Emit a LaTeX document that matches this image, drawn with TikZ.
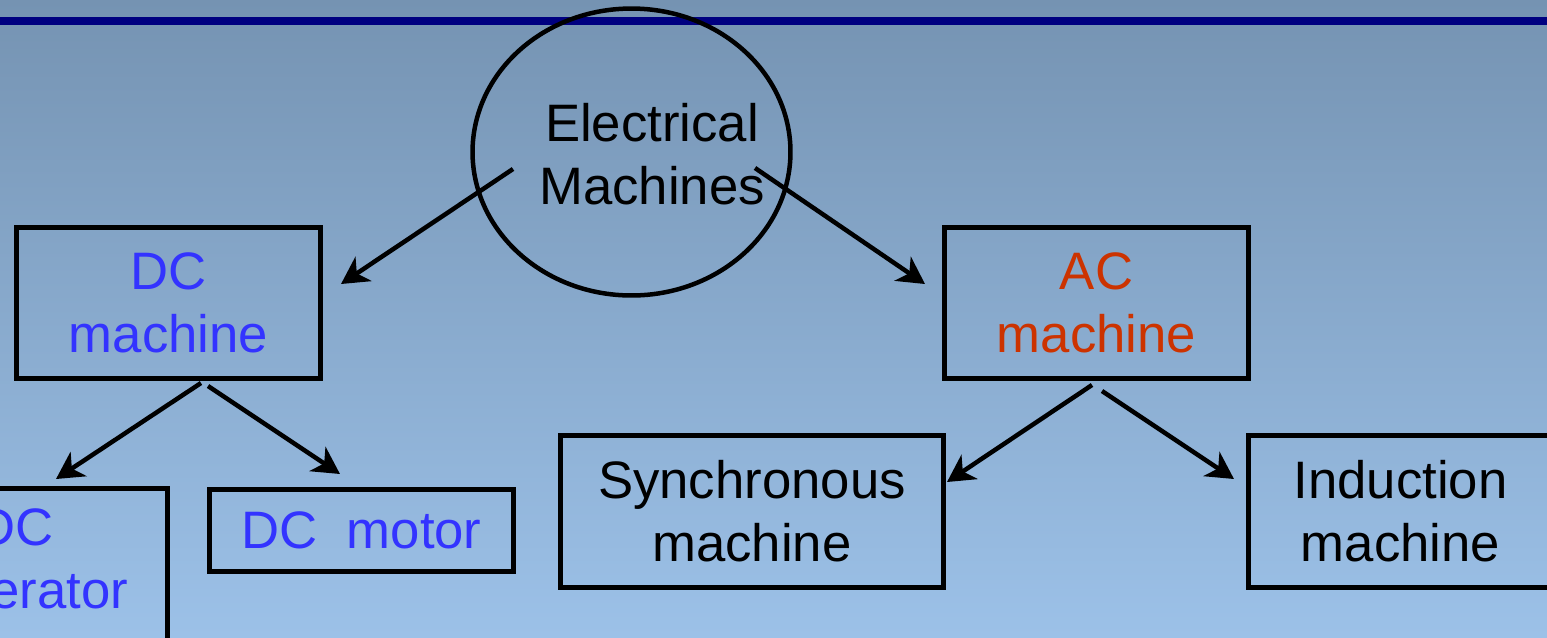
\documentclass[tikz,border=0pt]{standalone}
\usepackage{fontspec}
\setmainfont{Liberation Sans}
\usetikzlibrary{arrows.meta,shapes.geometric}
\definecolor{slidetop}{RGB}{117,147,178}
\definecolor{slidebottom}{RGB}{156,193,232}
\definecolor{rulenavy}{RGB}{0,0,128}
\definecolor{dcblue}{RGB}{51,51,255}
\definecolor{acred}{RGB}{204,51,0}
\tikzset{
  box/.style={draw, rectangle, line width=0.1cm, inner sep=0pt, align=center,
    minimum width=6.08cm, minimum height=3.04cm, font=\fontsize{30}{36}\selectfont},
  dc text/.style={text=dcblue},
  ac text/.style={text=acred},
  link/.style={-{Stealth[length=0.54cm, width=0.58cm, inset=0.16cm]}, line width=0.09cm},
}

\begin{document}
\begin{tikzpicture}[x=0.02cm, y=-0.02cm]

  % Slide background and title rule
  \useasboundingbox (0,0) rectangle (1547,637);
  \clip (0,0) rectangle (1547,637);
  \fill[top color=slidetop, bottom color=slidebottom] (0,0) rectangle (1547,637);
  \draw[rulenavy, line width=0.16cm] (0,21) -- (1547,21);

  % Root of the tree
  \node[ellipse, draw, line width=0.09cm, minimum width=6.36cm, minimum height=5.74cm] (root) at (631.5,152) {};
  \node[align=center, font=\fontsize{30}{36}\selectfont] (root label) at (652,154) {Electrical\\Machines};

  % DC branch
  \node[box, dc text] (dc) at (168.5,303) {DC\\machine};
  \node[box, dc text] (dcgen) at (15.5,564) {DC\\generator};
  \node[box, dc text, minimum height=1.64cm] (dcmotor) at (361.5,530) {DC~~motor};

  % AC branch
  \node[box, ac text] (ac) at (1096.5,303) {AC\\machine};
  \node[box, minimum width=7.68cm] (sync) at (752,511) {Synchronous\\machine};
  \node[box] (induction) at (1400.5,511) {Induction\\machine};

  % Arrow ends
  \coordinate (root-l) at (513,169);
  \coordinate (root-r) at (755,168);
  \coordinate (dc-in) at (341,284);
  \coordinate (ac-in) at (925,284);
  \coordinate (dc-l) at (201,383);
  \coordinate (dc-r) at (208,386);
  \coordinate (dcgen-in) at (56,479);
  \coordinate (dcmotor-in) at (340,474);
  \coordinate (ac-l) at (1092,385);
  \coordinate (ac-r) at (1102,391);
  \coordinate (sync-in) at (947,482);
  \coordinate (induction-in) at (1234,479);

  \draw[link] (root-l) -- (dc-in);
  \draw[link] (root-r) -- (ac-in);
  \draw[link] (dc-l) -- (dcgen-in);
  \draw[link] (dc-r) -- (dcmotor-in);
  \draw[link] (ac-l) -- (sync-in);
  \draw[link] (ac-r) -- (induction-in);

\end{tikzpicture}
\end{document}
